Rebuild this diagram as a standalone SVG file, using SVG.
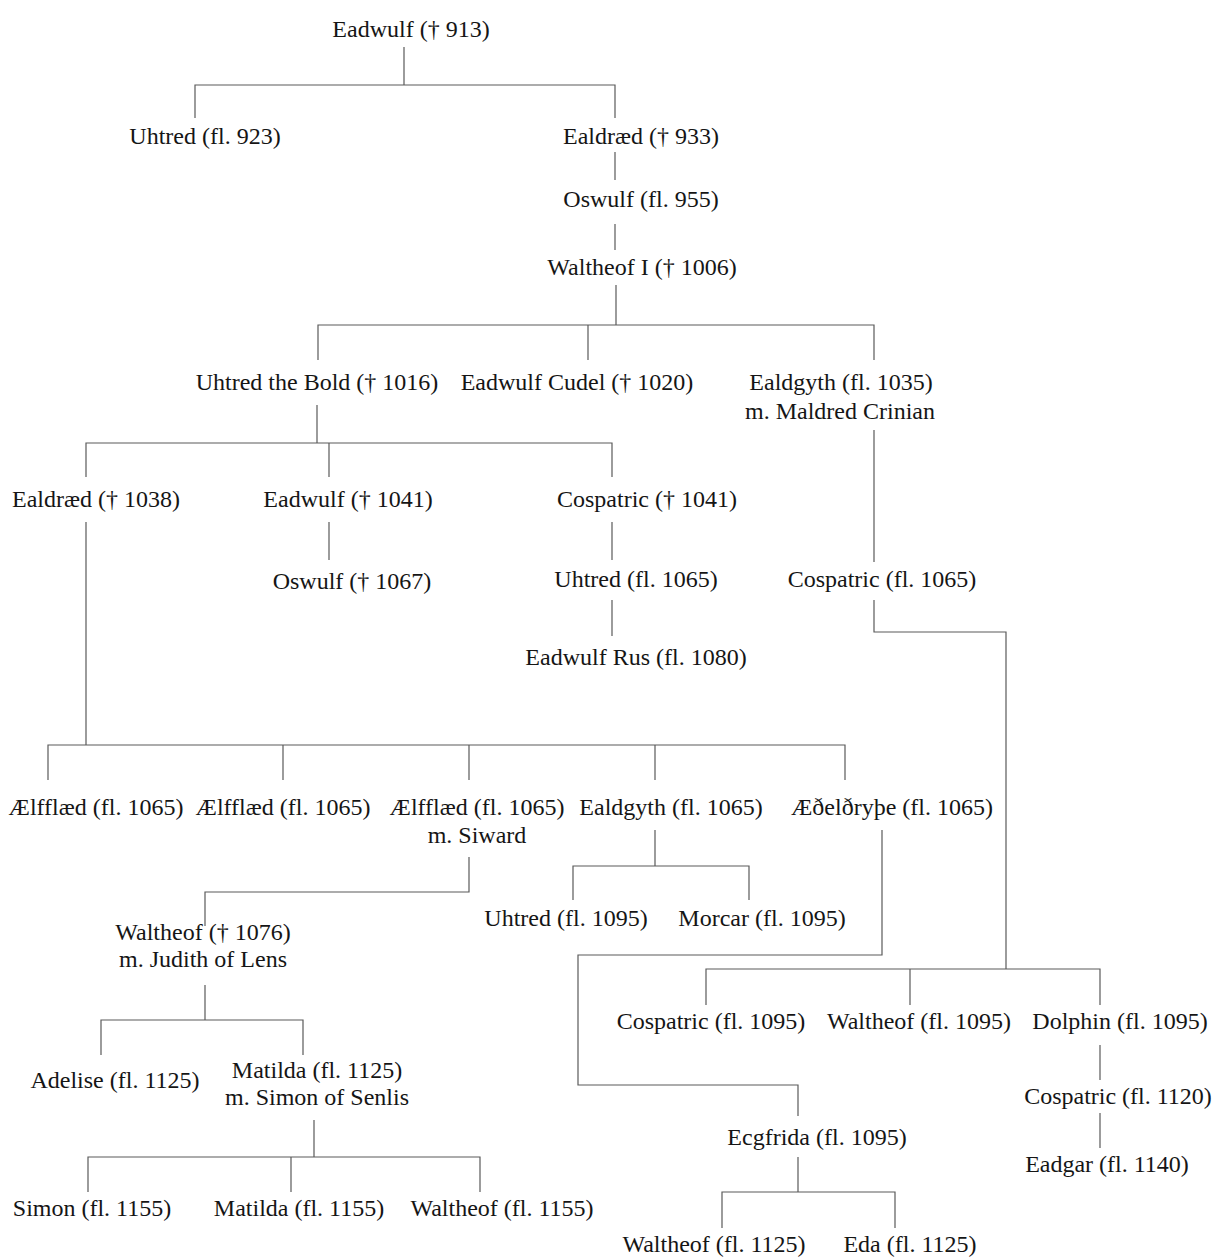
<svg xmlns="http://www.w3.org/2000/svg" width="1216" height="1257" viewBox="0 0 1216 1257">
<style>
text{font-family:"Liberation Serif","Times New Roman",serif;font-size:24px;fill:#151515;text-anchor:middle}
.c path{fill:none;stroke:#5a5a5a;stroke-width:1.2}
</style>
<rect width="1216" height="1257" fill="#fff"/>
<g class="c" id="connectors">
<path d="M404 47V85M195 118V85H615V118"/>
<path d="M615 152V180M615 224V250"/>
<path d="M616 285V325M318 360V325H874V360M588 325V360"/>
<path d="M317 405V443M86 477V443H612V477M329 443V477"/>
<path d="M329 522V560M612 522V560M612 600V636"/>
<path d="M874 430V562M874 600V632H1006V969"/>
<path d="M86 522V745M48 780V745H845V780M283 745V780M469 745V780M655 745V780"/>
<path d="M469 857V892H205V926"/>
<path d="M655 830V866M573 900V866H749V900"/>
<path d="M882 830V955H578V1085H798V1116"/>
<path d="M706 1005V969H1100V1005M910 969V1005"/>
<path d="M1100 1045V1080M1100 1113V1148"/>
<path d="M205 985V1020M101 1055V1020H303V1055"/>
<path d="M314 1120V1157M88 1192V1157H480V1192M291 1157V1192"/>
<path d="M798 1157V1192M722 1228V1192H895V1228"/>
</g>
<g id="n_eadwulf913"><text x="411" y="37">Eadwulf († 913)</text></g>
<g id="n_uhtred923"><text x="205" y="144">Uhtred (fl. 923)</text></g>
<g id="n_ealdraed933"><text x="641" y="144">Ealdræd († 933)</text></g>
<g id="n_oswulf955"><text x="641" y="207">Oswulf (fl. 955)</text></g>
<g id="n_waltheof1006"><text x="642" y="275">Waltheof I († 1006)</text></g>
<g id="n_uhtredbold"><text x="317" y="390">Uhtred the Bold († 1016)</text></g>
<g id="n_eadwulfcudel"><text x="577" y="390">Eadwulf Cudel († 1020)</text></g>
<g id="n_ealdgyth1035"><text x="841" y="390">Ealdgyth (fl. 1035)</text><text x="840" y="419">m. Maldred Crinian</text></g>
<g id="n_ealdraed1038"><text x="96" y="507">Ealdræd († 1038)</text></g>
<g id="n_eadwulf1041"><text x="348" y="507">Eadwulf († 1041)</text></g>
<g id="n_cospatric1041"><text x="647" y="507">Cospatric († 1041)</text></g>
<g id="n_oswulf1067"><text x="352" y="589">Oswulf († 1067)</text></g>
<g id="n_uhtred1065"><text x="636" y="587">Uhtred (fl. 1065)</text></g>
<g id="n_cospatric1065"><text x="882" y="587">Cospatric (fl. 1065)</text></g>
<g id="n_eadwulfrus"><text x="636" y="665">Eadwulf Rus (fl. 1080)</text></g>
<g id="n_aelfflaed1"><text x="96" y="815">Ælfflæd (fl. 1065)</text></g>
<g id="n_aelfflaed2"><text x="283" y="815">Ælfflæd (fl. 1065)</text></g>
<g id="n_aelfflaed3"><text x="477" y="815">Ælfflæd (fl. 1065)</text><text x="477" y="843">m. Siward</text></g>
<g id="n_ealdgyth1065"><text x="671" y="815">Ealdgyth (fl. 1065)</text></g>
<g id="n_aethelthryth"><text x="892" y="815">Æðelðryþe (fl. 1065)</text></g>
<g id="n_uhtred1095"><text x="566" y="926">Uhtred (fl. 1095)</text></g>
<g id="n_morcar"><text x="762" y="926">Morcar (fl. 1095)</text></g>
<g id="n_waltheof1076"><text x="203" y="940">Waltheof († 1076)</text><text x="203" y="967">m. Judith of Lens</text></g>
<g id="n_cospatric1095"><text x="711" y="1029">Cospatric (fl. 1095)</text></g>
<g id="n_waltheof1095"><text x="919" y="1029">Waltheof (fl. 1095)</text></g>
<g id="n_dolphin"><text x="1120" y="1029">Dolphin (fl. 1095)</text></g>
<g id="n_adelise"><text x="115" y="1088">Adelise (fl. 1125)</text></g>
<g id="n_matilda1125"><text x="317" y="1078">Matilda (fl. 1125)</text><text x="317" y="1105">m. Simon of Senlis</text></g>
<g id="n_cospatric1120"><text x="1118" y="1104">Cospatric (fl. 1120)</text></g>
<g id="n_ecgfrida"><text x="817" y="1145">Ecgfrida (fl. 1095)</text></g>
<g id="n_eadgar"><text x="1107" y="1172">Eadgar (fl. 1140)</text></g>
<g id="n_simon1155"><text x="92" y="1216">Simon (fl. 1155)</text></g>
<g id="n_matilda1155"><text x="299" y="1216">Matilda (fl. 1155)</text></g>
<g id="n_waltheof1155"><text x="502" y="1216">Waltheof (fl. 1155)</text></g>
<g id="n_waltheof1125"><text x="714" y="1252">Waltheof (fl. 1125)</text></g>
<g id="n_eda"><text x="910" y="1252">Eda (fl. 1125)</text></g>
</svg>
